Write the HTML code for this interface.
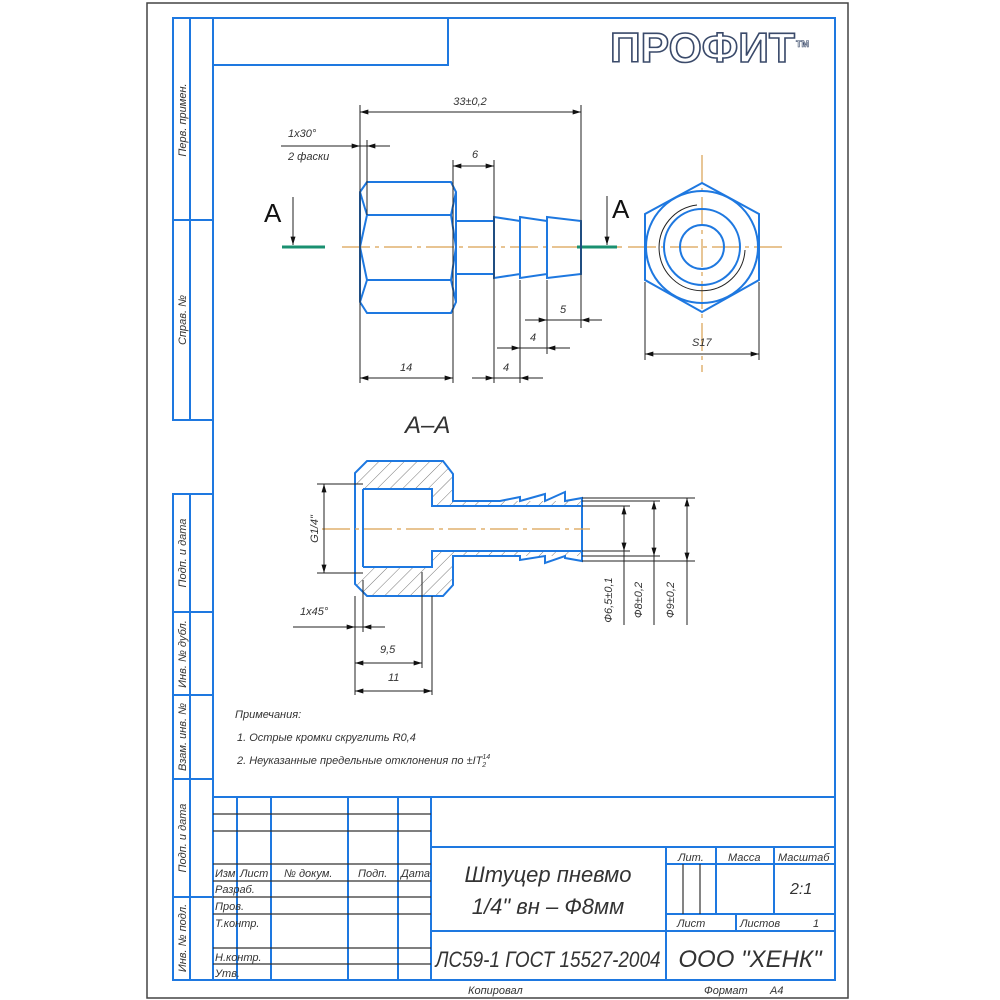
<!DOCTYPE html>
<html><head><meta charset="utf-8"><style>
html,body{margin:0;padding:0;background:#fff;}
svg{display:block;}
text{font-family:"Liberation Sans","Noto Sans CJK SC",sans-serif;font-style:italic;fill:#333;}
.b{stroke:#1e78e0;stroke-width:2;fill:none;}
.k{stroke:#222;stroke-width:1;fill:none;}
.c{stroke:#d9a050;stroke-width:1.2;fill:none;stroke-dasharray:28 5 4 5;}
</style></head><body>
<svg width="1000" height="1000" viewBox="0 0 1000 1000" xmlns="http://www.w3.org/2000/svg">
<defs>
<marker id="a" viewBox="0 0 10 6" refX="10" refY="3" markerWidth="12" markerHeight="5" orient="auto-start-reverse"><path d="M0,0L10,3L0,6z" fill="#111"/></marker>
<pattern id="h" width="9" height="9" patternUnits="userSpaceOnUse" patternTransform="rotate(45)"><line x1="0" y1="0" x2="0" y2="9" stroke="#555" stroke-width="0.8"/></pattern>
</defs>
<!-- outer black frame -->
<path d="M147,3 H848 V998 H147 Z" fill="none" stroke="#444" stroke-width="1.5"/>
<!-- blue frame -->
<rect x="213" y="18" width="622" height="962" class="b"/>
<path class="b" d="M213,65 H448 V18"/>
<!-- left strip top -->
<path class="b" d="M213,18 H173 V420 H213 M190,18 V420 M173,220 H213"/>
<text transform="translate(186,120) rotate(-90)" font-size="11" text-anchor="middle">Перв. примен.</text>
<text transform="translate(186,320) rotate(-90)" font-size="11" text-anchor="middle">Справ. №</text>
<!-- lower strip -->
<path class="b" d="M213,494 H173 V980 H213 M190,494 V980 M173,612 H213 M173,695 H213 M173,779 H213 M173,897 H213"/>
<text transform="translate(186,553) rotate(-90)" font-size="11" text-anchor="middle">Подп. и дата</text>
<text transform="translate(186,654) rotate(-90)" font-size="11" text-anchor="middle">Инв. № дубл.</text>
<text transform="translate(186,737) rotate(-90)" font-size="11" text-anchor="middle">Взам. инв. №</text>
<text transform="translate(186,838) rotate(-90)" font-size="11" text-anchor="middle">Подп. и дата</text>
<text transform="translate(186,938) rotate(-90)" font-size="11" text-anchor="middle">Инв. № подл.</text>
<!-- logo -->
<text x="610" y="62" font-size="42" font-weight="bold" font-style="normal" style="font-style:normal;fill:#fff;stroke:#3a4a6a;stroke-width:1.6" textLength="185" lengthAdjust="spacingAndGlyphs">ПРОФИТ</text>
<text x="796" y="47" font-size="9" font-weight="bold" style="font-style:normal;fill:#fff;stroke:#3a4a6a;stroke-width:0.6">TM</text>

<!-- main view centerline -->
<line x1="342" y1="247" x2="625" y2="247" class="c"/>
<line x1="282" y1="247" x2="325" y2="247" stroke="#1a9070" stroke-width="3"/>
<line x1="577" y1="247" x2="617" y2="247" stroke="#1a9070" stroke-width="3"/>
<text x="264" y="222" font-size="26" style="font-style:normal;fill:#111">A</text>
<text x="612" y="218" font-size="26" style="font-style:normal;fill:#111">A</text>
<line x1="293" y1="197" x2="293" y2="245" class="k" marker-end="url(#a)"/>
<line x1="607" y1="196" x2="607" y2="245" class="k" marker-end="url(#a)"/>
<!-- hex body -->
<path class="b" d="M367,182 L451,182 L456,192 L456,302 L451,313 L367,313 L360,302 L360,192 Z M367,182 L360,192 M451,215 L456,247 L451,280 M367,215 L360,247 L367,280 M367,215 H451 M367,280 H451 M360,192 L367,215 M360,302 L367,280 M456,192 L451,215 M456,302 L451,280"/>
<!-- neck + barbs -->
<path class="b" d="M456,221 H494 V274 H456 M494,217 L520,221 V274 L494,278 Z M520,217 L547,221 V274 L520,278 Z M547,217 L581,221 V274 L547,278 Z"/>
<!-- dims main -->
<path class="k" d="M360,105 V383 M581,105 V328 M367,140 V215 M453,160 V383 M494,160 V383 M520,280 V383 M547,280 V354 M281,146 H390"/>
<line x1="360" y1="112" x2="581" y2="112" class="k" marker-start="url(#a)" marker-end="url(#a)"/>
<text x="470" y="105" font-size="11" text-anchor="middle">33±0,2</text>
<line x1="345" y1="146" x2="360" y2="146" class="k" marker-end="url(#a)"/>
<line x1="382" y1="146" x2="367" y2="146" class="k" marker-end="url(#a)"/>
<text x="288" y="137" font-size="11">1x30°</text>
<text x="288" y="160" font-size="11">2 фаски</text>
<line x1="453" y1="166" x2="494" y2="166" class="k" marker-start="url(#a)" marker-end="url(#a)"/>
<text x="472" y="158" font-size="11">6</text>
<line x1="360" y1="378" x2="453" y2="378" class="k" marker-start="url(#a)" marker-end="url(#a)"/>
<text x="400" y="371" font-size="11">14</text>
<path class="k" d="M472,378 H543"/>
<line x1="474" y1="378" x2="494" y2="378" class="k" marker-end="url(#a)"/>
<line x1="542" y1="378" x2="520" y2="378" class="k" marker-end="url(#a)"/>
<text x="503" y="371" font-size="11">4</text>
<path class="k" d="M497,348 H570"/>
<line x1="499" y1="348" x2="520" y2="348" class="k" marker-end="url(#a)"/>
<line x1="569" y1="348" x2="547" y2="348" class="k" marker-end="url(#a)"/>
<text x="530" y="341" font-size="11">4</text>
<path class="k" d="M525,320 H602"/>
<line x1="526" y1="320" x2="547" y2="320" class="k" marker-end="url(#a)"/>
<line x1="601" y1="320" x2="581" y2="320" class="k" marker-end="url(#a)"/>
<text x="560" y="313" font-size="11">5</text>

<!-- hex end view -->
<line x1="628" y1="247" x2="782" y2="247" class="c"/>
<line x1="702" y1="155" x2="702" y2="372" class="c"/>
<path class="b" d="M702,183 L759,214 V280 L702,312 L645,280 V214 Z"/>
<circle cx="702" cy="247" r="56" class="b"/>
<circle cx="702" cy="247" r="38" class="b"/>
<circle cx="702" cy="247" r="22" class="b"/>
<path class="k" d="M697,205 A43,43 0 1 0 745,250"/>
<path class="k" d="M645,282 V360 M759,282 V360"/>
<line x1="645" y1="354" x2="759" y2="354" class="k" marker-start="url(#a)" marker-end="url(#a)"/>
<text x="692" y="346" font-size="11">S17</text>

<!-- section -->
<text x="405" y="433" font-size="24">A–A</text>
<path fill="url(#h)" stroke="none" d="M367,461 L443,461 L453,474 V501 L582,501 V506 L432,506 V489 L363,489 V484 L355,484 V473 Z M355,573 H363 V567 H432 V551 H582 V556 L453,556 V585 L443,596 H367 L355,584 Z"/>
<path class="b" d="M367,461 L443,461 L453,474 V501 H500 L520,497 V501 L545,494 V501 L565,492 V501 L582,498 V561 L565,558 V556 L545,563 V556 L520,560 V556 L500,556 H453 V585 L443,596 H367 L355,584 V473 Z M363,489 H432 V506 H582 M363,567 H432 V551 H582 M363,489 V567 M432,489 V506 M432,551 V567"/>
<path class="k" d="M355,484 H363 M355,573 H363"/>
<line x1="322" y1="529" x2="590" y2="529" class="c"/>
<path class="k" d="M317,484 H355 M317,573 H355 M582,498 H695 M582,501 H660 M582,506 H630 M582,551 H630 M582,556 H660 M582,561 H695 M624,506 V625 M654,501 V625 M687,498 V625"/>
<line x1="324" y1="529" x2="324" y2="484" class="k" marker-end="url(#a)"/>
<line x1="324" y1="529" x2="324" y2="573" class="k" marker-end="url(#a)"/>
<text transform="translate(318,529) rotate(-90)" font-size="11" text-anchor="middle">G1/4"</text>
<line x1="624" y1="529" x2="624" y2="506" class="k" marker-end="url(#a)"/>
<line x1="624" y1="529" x2="624" y2="551" class="k" marker-end="url(#a)"/>
<line x1="654" y1="529" x2="654" y2="501" class="k" marker-end="url(#a)"/>
<line x1="654" y1="529" x2="654" y2="556" class="k" marker-end="url(#a)"/>
<line x1="687" y1="529" x2="687" y2="498" class="k" marker-end="url(#a)"/>
<line x1="687" y1="529" x2="687" y2="561" class="k" marker-end="url(#a)"/>
<text transform="translate(612,600) rotate(-90)" font-size="11" text-anchor="middle">Ф6,5±0,1</text>
<text transform="translate(642,600) rotate(-90)" font-size="11" text-anchor="middle">Ф8±0,2</text>
<text transform="translate(674,600) rotate(-90)" font-size="11" text-anchor="middle">Ф9±0,2</text>
<path class="k" d="M355,596 V695 M363,580 V632 M422,572 V668 M432,596 V695 M293,627 H385"/>
<line x1="340" y1="627" x2="355" y2="627" class="k" marker-end="url(#a)"/>
<line x1="378" y1="627" x2="363" y2="627" class="k" marker-end="url(#a)"/>
<text x="300" y="615" font-size="11">1x45°</text>
<line x1="355" y1="663" x2="422" y2="663" class="k" marker-start="url(#a)" marker-end="url(#a)"/>
<text x="380" y="653" font-size="11">9,5</text>
<line x1="355" y1="691" x2="432" y2="691" class="k" marker-start="url(#a)" marker-end="url(#a)"/>
<text x="388" y="681" font-size="11">11</text>

<!-- notes -->
<text x="235" y="718" font-size="11">Примечания:</text>
<text x="237" y="741" font-size="11">1. Острые кромки скруглить R0,4</text>
<text x="237" y="764" font-size="11">2. Неуказанные предельные отклонения по ±IT<tspan font-size="7" dy="-5">14</tspan><tspan font-size="7" dx="-8" dy="8">2</tspan></text>

<!-- title block -->
<path class="b" d="M213,797 H835 M237,797 V980 M271,797 V980 M348,797 V980 M398,797 V980 M431,797 V980 M666,847 V980 M431,847 H835 M666,864 H835 M666,914 H835 M431,931 H835 M716,847 V914 M774,847 V914 M736,914 V931"/>
<path stroke="#333" stroke-width="1.2" fill="none" d="M213,814 H431 M213,831 H431 M213,864 H431 M213,881 H431 M213,897 H431 M213,914 H431 M213,948 H431 M213,964 H431 M683,864 V914 M700,864 V914"/>
<text x="215" y="877" font-size="11">Изм</text>
<text x="240" y="877" font-size="11">Лист</text>
<text x="284" y="877" font-size="11">№ докум.</text>
<text x="358" y="877" font-size="11">Подп.</text>
<text x="401" y="877" font-size="11">Дата</text>
<text x="215" y="893" font-size="11">Разраб.</text>
<text x="215" y="910" font-size="11">Пров.</text>
<text x="215" y="927" font-size="11">Т.контр.</text>
<text x="215" y="961" font-size="11">Н.контр.</text>
<text x="215" y="977" font-size="11">Утв.</text>
<text x="548" y="882" font-size="22" text-anchor="middle">Штуцер пневмо</text>
<text x="548" y="914" font-size="22" text-anchor="middle">1/4" вн – Ф8мм</text>
<text x="548" y="967" font-size="22" text-anchor="middle" textLength="225" lengthAdjust="spacingAndGlyphs">ЛС59-1 ГОСТ 15527-2004</text>
<text x="750" y="967" font-size="24" text-anchor="middle">ООО "ХЕНК"</text>
<text x="678" y="861" font-size="11">Лит.</text>
<text x="728" y="861" font-size="11">Масса</text>
<text x="778" y="861" font-size="11">Масштаб</text>
<text x="790" y="894" font-size="16">2:1</text>
<text x="677" y="927" font-size="11">Лист</text>
<text x="740" y="927" font-size="11">Листов</text>
<text x="813" y="927" font-size="11">1</text>
<text x="468" y="994" font-size="11">Копировал</text>
<text x="704" y="994" font-size="11">Формат</text>
<text x="770" y="994" font-size="11">A4</text>
</svg>
</body></html>
